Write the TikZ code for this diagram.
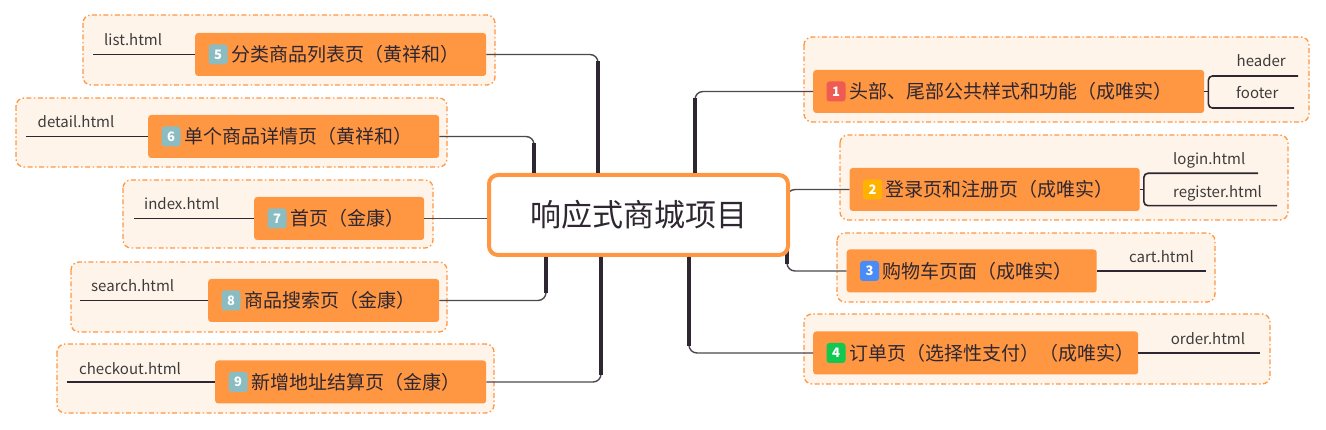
\documentclass[tikz,border=0pt]{standalone}
\usepackage{fontspec}
\setmainfont{Noto Sans CJK SC}
\usepackage{tikz}
\usetikzlibrary{calc}

\definecolor{boxorange}{HTML}{FF9642}
\definecolor{paleorange}{HTML}{FFF4EA}
\definecolor{ink}{HTML}{2E2731}
\definecolor{txtgray}{HTML}{3C3C3C}
\definecolor{bred}{HTML}{EF5A52}
\definecolor{byellow}{HTML}{FFB300}
\definecolor{bblue}{HTML}{4A8CF7}
\definecolor{bgreen}{HTML}{12C851}
\definecolor{bteal}{HTML}{8BBCC2}

\pgfdeclarelayer{bg}
\pgfsetlayers{bg,main}

\begin{document}
\begin{tikzpicture}[x=1pt,y=-1pt,
	grpbox/.style={draw=boxorange, fill=paleorange, rounded corners=8pt, line width=1.3pt, dash pattern=on 5pt off 2.5pt on 1.5pt off 2.5pt},
	hub/.style={draw=boxorange, fill=white, line width=4pt, rounded corners=9pt, minimum width=299pt, minimum height=80pt, text=ink, font=\fontsize{31pt}{33pt}\selectfont},
	topic/.style={fill=boxorange, rounded corners=3pt, minimum height=43pt, anchor=west, align=left, inner xsep=0pt, inner ysep=0pt, text=ink, font=\fontsize{19pt}{21pt}\selectfont},
	badge/.style={fill=#1, rounded corners=3pt, minimum width=19pt, minimum height=20pt, inner sep=0pt, text=white, font=\fontsize{13pt}{13pt}\selectfont\bfseries},
	fname/.style={anchor=base west, inner sep=0pt, text=txtgray, font=\fontsize{15pt}{17pt}\selectfont},
	twig/.style={draw=ink!85, line width=1.4pt, rounded corners=8pt},
	trunk/.style={draw=ink, line width=3.6pt},
	subline/.style={draw=ink, line width=1.6pt}]
	\useasboundingbox (0,0) rectangle (1326,430);

	% dash-dot frames
	\begin{pgfonlayer}{bg}
	\draw[grpbox] (83,15) rectangle (495,85);
	\draw[grpbox] (16,98) rectangle (447,167);
	\draw[grpbox] (123,180) rectangle (433,248);
	\draw[grpbox] (71,262) rectangle (447,332);
	\draw[grpbox] (57,344) rectangle (494,413);
	\draw[grpbox] (804,37) rectangle (1309,122);
	\draw[grpbox] (840,135) rectangle (1288,220);
	\draw[grpbox] (837,233) rectangle (1215,302);
	\draw[grpbox] (804,314) rectangle (1270,384);
	\end{pgfonlayer}

	\node[hub] (c) at (638.5,215) {响应式商城项目};

	% right side
	\node[topic, text width=391pt] (t1) at (813,91.5) {\hspace*{36pt}头部、尾部公共样式和功能（成唯实）};
	\node[topic, text width=290pt] (t2) at (849.5,189.5) {\hspace*{36pt}登录页和注册页（成唯实）};
	\node[topic, text width=250pt] (t3) at (846.5,271) {\hspace*{36pt}购物车页面（成唯实）};
	\node[topic, text width=325pt] (t4) at (813,353) {\hspace*{36pt}订单页（选择性支付）（成唯实）};
	% left side
	\node[topic, text width=291pt] (t5) at (195,54.5) {\hspace*{36pt}分类商品列表页（黄祥和）};
	\node[topic, text width=291pt] (t6) at (148,136.5) {\hspace*{36pt}单个商品详情页（黄祥和）};
	\node[topic, text width=170pt] (t7) at (254,218.5) {\hspace*{36pt}首页（金康）};
	\node[topic, text width=231pt] (t8) at (208,300.5) {\hspace*{36pt}商品搜索页（金康）};
	\node[topic, text width=271pt] (t9) at (215,382) {\hspace*{36pt}新增地址结算页（金康）};

	\node[badge=bred] (n1) at ([xshift=23pt]t1.west) {1};
	\node[badge=byellow] (n2) at ([xshift=23pt]t2.west) {2};
	\node[badge=bblue] (n3) at ([xshift=23pt]t3.west) {3};
	\node[badge=bgreen] (n4) at ([xshift=23pt]t4.west) {4};
	\node[badge=bteal] (n5) at ([xshift=23pt]t5.west) {5};
	\node[badge=bteal] (n6) at ([xshift=23pt]t6.west) {6};
	\node[badge=bteal] (n7) at ([xshift=23pt]t7.west) {7};
	\node[badge=bteal] (n8) at ([xshift=23pt]t8.west) {8};
	\node[badge=bteal] (n9) at ([xshift=23pt]t9.west) {9};

	% branches to the hub
	\coordinate (k1) at ([xshift=56.5pt]c.north);
	\coordinate (k23) at ([xshift=-3pt]c.east);
	\coordinate (k4) at ([xshift=50.5pt]c.south);
	\coordinate (k5) at ([xshift=-40.5pt]c.north);
	\coordinate (k6) at ([xshift=-104.5pt]c.north);
	\coordinate (k8) at ([xshift=-92.5pt]c.south);
	\coordinate (k9) at ([xshift=-37.5pt]c.south);

	\draw[twig] (k1) |- (t1.west);
	\draw[trunk] (k1) -- ($(k1 |- t1.west)+(0,7)$);
	\begin{pgfonlayer}{bg}
	\draw[twig] (k23) |- (t2.west);
	\draw[twig] (k23) |- (t3.west);
	\draw[trunk] ($(k23 |- t2.west)+(0,7)$) -- ($(k23 |- t3.west)+(0,-7)$);
	\end{pgfonlayer}
	\draw[twig] (k4) |- (t4.west);
	\draw[trunk] (k4) -- ($(k4 |- t4.west)+(0,-7)$);
	\draw[twig] (k5) |- (t5.east);
	\draw[trunk] (k5) -- ($(k5 |- t5.east)+(0,7)$);
	\draw[twig] (k6) |- (t6.east);
	\draw[trunk] (k6) -- ($(k6 |- t6.east)+(0,7)$);
	\draw[twig] (t7.east) -- (t7.east -| c.west);
	\draw[twig] (k8) |- (t8.east);
	\draw[trunk] (k8) -- ($(k8 |- t8.east)+(0,-7)$);
	\draw[twig] (k9) |- (t9.east);
	\draw[trunk] (k9) -- ($(k9 |- t9.east)+(0,-7)$);

	% file names
	\coordinate (hd) at (1298,76);
	\coordinate (ft) at (1294,108);
	\draw[subline] (t1.east) -- ($(t1.east)+(4,0)$);
	\draw[subline, rounded corners=4pt] (hd) -| ($(t1.east)+(4,0)$) |- (ft);
	\node[fname] (f1a) at (1236.5,66.7) {header};
	\node[fname] (f1b) at (1236,99) {footer};

	\coordinate (lg) at (1258,173.3);
	\coordinate (rg) at (1277,205.7);
	\draw[subline] (t2.east) -- ($(t2.east)+(4,0)$);
	\draw[subline, rounded corners=4pt] (lg) -| ($(t2.east)+(4,0)$) |- (rg);
	\node[fname] (f2a) at (1173,165) {login.html};
	\node[fname] (f2b) at (1173,197.3) {register.html};

	\coordinate (e3) at (1206,271);
	\draw[subline] (t3.east) -- (e3);
	\node[fname] (f3) at (1129,263) {cart.html};

	\coordinate (e4) at (1260,353);
	\draw[subline] (t4.east) -- (e4);
	\node[fname] (f4) at (1170.6,345) {order.html};

	\coordinate (e5) at (93,54.5);
	\draw[subline] (e5) -- (t5.west);
	\node[fname] (f5) at (104,46) {list.html};

	\coordinate (e6) at (26,136.5);
	\draw[subline] (e6) -- (t6.west);
	\node[fname] (f6) at (37.5,128) {detail.html};

	\coordinate (e7) at (134,218.5);
	\draw[subline] (e7) -- (t7.west);
	\node[fname] (f7) at (144,210) {index.html};

	\coordinate (e8) at (80,300.5);
	\draw[subline] (e8) -- (t8.west);
	\node[fname] (f8) at (91,292) {search.html};

	\coordinate (e9) at (66.5,382);
	\draw[subline] (e9) -- (t9.west);
	\node[fname] (f9) at (79,374) {checkout.html};
\end{tikzpicture}
\end{document}
